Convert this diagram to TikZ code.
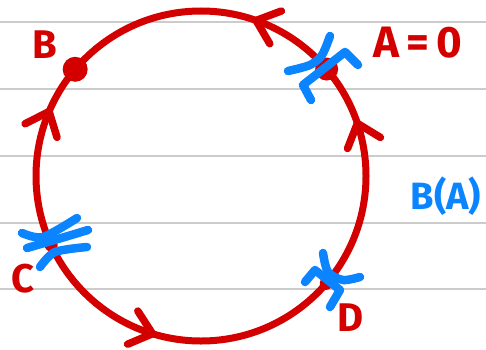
\documentclass[tikz,border=0pt]{standalone}
\usepackage{fontspec}
\setmainfont{Fira Sans}
\definecolor{inkred}{HTML}{D40000}
\definecolor{inkblue}{HTML}{0A84FF}
\definecolor{ruleline}{HTML}{CCCCCC}

\begin{document}
\begin{tikzpicture}[
  x=1pt, y=1pt,
  ruled/.style={draw=ruleline, line width=2pt},
  redline/.style={draw=inkred, line width=7pt},
  chevron/.style={draw=inkred, line width=7.5pt, line cap=round, line join=round},
  bluemark/.style={draw=inkblue, line width=8.5pt, line cap=round, line join=round},
  pointdot/.style={circle, fill=inkred, inner sep=0pt, minimum size=23pt},
  smalldot/.style={circle, fill=inkred, inner sep=0pt, minimum size=13pt},
  redlabel/.style={text=inkred, font=\bfseries\fontsize{40}{40}\selectfont, inner sep=0pt},
  bluelabel/.style={text=inkblue, font=\bfseries\fontsize{38}{38}\selectfont, inner sep=0pt}
]
\useasboundingbox (0,0) rectangle (486,349);

% lined paper
\foreach \y in {327,260,193,126,60}
  \draw[ruled] (0,\y) -- (486,\y);

\begin{scope}[shift={(201,173)}]
  \coordinate (O) at (0,0);
  \draw[redline] (O) circle (165);
  % direction marks (angle on circle / turn of travel)
  \foreach \a/\d in {18.6/90, 70.5/90, 157/-90, 252.9/90}
    \draw[chevron] (\a:165) ++({\a+\d+140}:27) -- (\a:165) -- ++({\a+\d-140}:27);
  \node[pointdot] (ptA) at (40.4:165) {};
  \node[pointdot, minimum size=25pt] (ptB) at (139.7:165) {};
  \node[smalldot] (ptC) at (204.8:165) {};
  \node[smalldot] (ptD) at (-40.6:165) {};
\end{scope}

% labels
\node[redlabel] (labB) at (45,304) {B};
\node[redlabel, font=\bfseries\fontsize{44}{44}\selectfont] (labA) at (418,306) {A\,=\,0};
\node[redlabel] (labC) at (23,70) {C};
\node[redlabel] (labD) at (351,31) {D};
\node[bluelabel] (labBA) at (446,153) {B(A)};

% blue marks at A
\draw[bluemark] plot[smooth] coordinates {(288,278) (310,284) (322,294) (330,313)};
\draw[bluemark] (311,249) -- (303,264) -- (345,297) -- (358,284);
% blue marks at C
\draw[bluemark] plot[smooth] coordinates {(22,116) (43,112) (77,131)};
\draw[bluemark] plot[smooth] coordinates {(27,101) (58,110) (88,119)};
\draw[bluemark] plot[smooth] coordinates {(40,82) (55,97) (87,102)};
% blue marks at D
\draw[bluemark] plot[smooth] coordinates {(323,96) (328,77) (343,69) (360,72)};
\draw[bluemark] (305,67) -- (315,79) -- (340,59) -- (330,42);
\end{tikzpicture}
\end{document}
